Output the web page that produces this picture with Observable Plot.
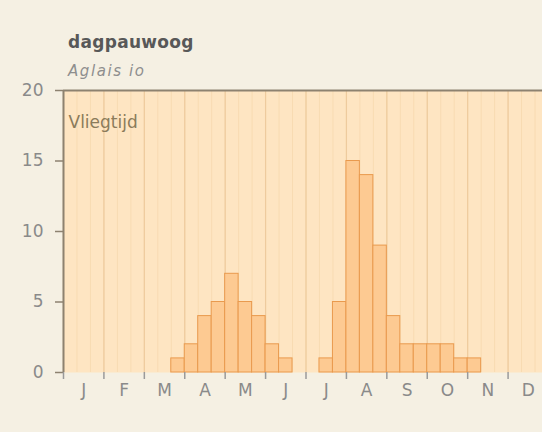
<!DOCTYPE html>
<html><head><meta charset="utf-8">
<script src="https://cdn.jsdelivr.net/npm/d3@7"></script>
<script src="https://cdn.jsdelivr.net/npm/@observablehq/plot@0.6"></script>
<style>
html,body{margin:0;padding:0;background:#f5f0e3;}
#wrap{width:542px;height:432px;overflow:hidden;position:relative;background:#f5f0e3;}
#head{height:80px;position:relative;font-family:"DejaVu Sans";}
#title{position:absolute;left:68px;top:34px;font-size:17px;line-height:17px;font-weight:bold;color:#585858;white-space:nowrap;letter-spacing:0.3px;}
#sub{position:absolute;left:68px;top:64px;font-size:15px;line-height:15px;font-style:italic;color:#8e8e8e;letter-spacing:1.6px;white-space:nowrap;}
svg{display:block;}
</style></head>
<body>
<div id="wrap">
<div id="head"><div id="title">dagpauwoog</div><div id="sub">Aglais io</div></div>
<div id="chart"></div>
</div>
<script>
const months = ["J","F","M","A","M","J","J","A","S","O","N","D"];
// counts per decade (10-day period), 3 per month
const counts = [0,0,0, 0,0,0, 0,0,1, 2,4,5, 7,5,4, 2,1,0, 0,1,5, 15,14,9, 4,2,2, 2,2,1, 1,0,0, 0,0,0];
const yTicks = [0,5,10,15,20];
const label = "Vliegtijd";

const data = counts.map((v, i) => ({x1: i, x2: i + 1, v}));
const decadeLines = counts.map((_, i) => i);
const monthStarts = months.map((_, i) => i * 3);
const monthMids = months.map((_, i) => i * 3 + 1.5);

const axisColor = "#8d8270";
const chart = Plot.plot({
  width: 542,
  height: 352,
  marginTop: 10,
  marginBottom: 60,
  marginLeft: 63,
  marginRight: 0,
  style: {fontFamily: "DejaVu Sans", background: "transparent", overflow: "visible"},
  x: {domain: [0, 36], range: [63, 548], label: null},
  y: {domain: [0, 20], label: null},
  marks: [
    Plot.frame({fill: "#fee5c2", stroke: null}),
    Plot.ruleX(decadeLines, {stroke: "#f8dbb2", strokeWidth: 1}),
    Plot.ruleX(monthStarts, {stroke: "#eecb9e", strokeWidth: 1.2}),
    Plot.rectY(data, {x1: "x1", x2: "x2", y: "v", fill: "#fdca92", stroke: "#e99a4e", strokeWidth: 1, inset: 0}),
    Plot.ruleY([20], {stroke: axisColor, strokeWidth: 2}),
    Plot.ruleX([0], {stroke: axisColor, strokeWidth: 2}),
    Plot.axisY(yTicks, {label: null, tickSize: 8, tickPadding: 12, fontSize: 17, fill: "#8a8a8a", stroke: axisColor, strokeWidth: 1.5}),
    Plot.axisX(monthStarts, {label: null, tickSize: 7, tickFormat: () => "", stroke: "#9a9a9a", strokeWidth: 1.5}),
    Plot.axisX(monthMids, {label: null, tickSize: 0, tickPadding: 11, fontSize: 17, fill: "#8a8a8a", tickFormat: d => months[Math.floor(d / 3)]}),
    Plot.text([label], {frameAnchor: "top-left", lineAnchor: "bottom", textAnchor: "start", dx: 5, dy: 37, fontSize: 17, fill: "#8b7b5b"})
  ]
});
document.getElementById("chart").appendChild(chart);
</script>
</body></html>
